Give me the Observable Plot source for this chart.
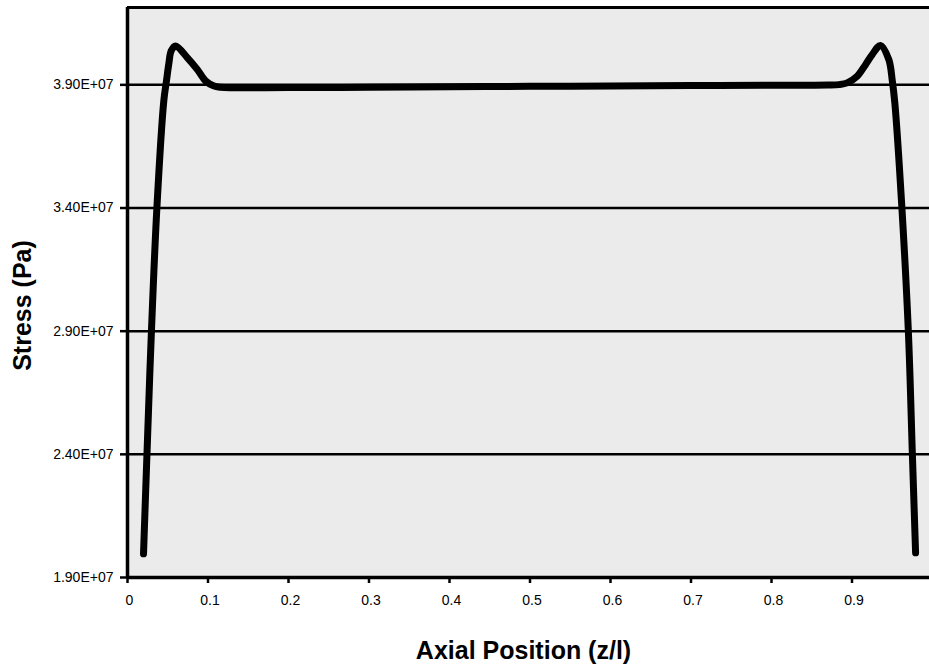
<!DOCTYPE html>
<html>
<head>
<meta charset="utf-8">
<script src="https://cdn.jsdelivr.net/npm/d3@7"></script>
<script src="https://cdn.jsdelivr.net/npm/@observablehq/plot@0.6"></script>
<style>
  html, body { margin: 0; padding: 0; background: #fff; overflow: hidden; }
  #chart svg { display: block; }
</style>
</head>
<body>
<div id="chart"></div>
<script>
// Axial position (z/l)
const axialPosition = [
  0.0199, 0.0241, 0.0297, 0.0365, 0.0451, 0.0484, 0.0513, 0.0543, 0.0596, 0.0742,
  0.0866, 0.0969, 0.1068, 0.1155, 0.13, 0.2, 0.3, 0.4, 0.5, 0.6,
  0.7, 0.8, 0.87, 0.884, 0.894, 0.9064, 0.9168, 0.9251, 0.9354, 0.9457,
  0.9499, 0.9532, 0.962, 0.970, 0.975, 0.979
];
// Stress (Pa)
const stress = [
  1.996e7, 2.394e7, 2.897e7, 3.40e7, 3.835e7, 3.916e7, 3.985e7, 4.038e7, 4.058e7, 4.011e7,
  3.963e7, 3.916e7, 3.896e7, 3.890e7, 3.888e7, 3.889e7, 3.890e7, 3.892e7, 3.894e7, 3.895e7,
  3.897e7, 3.898e7, 3.899e7, 3.901e7, 3.908e7, 3.935e7, 3.982e7, 4.023e7, 4.060e7, 4.003e7,
  3.921e7, 3.827e7, 3.40e7, 2.90e7, 2.40e7, 2.00e7
];
const yTicks = [1.9e7, 2.4e7, 2.9e7, 3.4e7, 3.9e7];
const yTickLabels = ["1.90E+07", "2.40E+07", "2.90E+07", "3.40E+07", "3.90E+07"];
const gridLines = [2.4e7, 2.9e7, 3.4e7, 3.9e7];
const xTicks = [0, 0.1, 0.2, 0.3, 0.4, 0.5, 0.6, 0.7, 0.8, 0.9, 1];
const xTickLabels = ["0", "0.1", "0.2", "0.3", "0.4", "0.5", "0.6", "0.7", "0.8", "0.9", "1"];
const yMin = 1.9e7, yMax = 4.214e7;

const data = axialPosition.map((x, i) => ({x, y: stress[i]}));
const yLab = yTicks.map((v, i) => ({v, t: yTickLabels[i]}));
const xLab = xTicks.map((v, i) => ({v, t: xTickLabels[i]}));
const font = "Arial, 'Liberation Sans', sans-serif";

const chart = Plot.plot({
  width: 929,
  height: 668,
  marginLeft: 127,
  marginTop: 7,
  marginBottom: 91,
  marginRight: 0,
  style: {fontFamily: font, background: "#fff", color: "#000", overflow: "visible"},
  x: {domain: [0, 1], range: [127, 932]},
  y: {domain: [yMin, yMax]},
  marks: [
    Plot.frame({fill: "#ebebeb", stroke: null}),
    Plot.ruleY(gridLines, {stroke: "#000", strokeWidth: 2.5}),
    Plot.ruleY([yMax], {stroke: "#000", strokeWidth: 3}),
    Plot.ruleY([yMin], {stroke: "#000", strokeWidth: 3.5}),
    Plot.ruleX([0], {stroke: "#000", strokeWidth: 3.5}),
    Plot.line(data, {x: "x", y: "y", curve: "catmull-rom", stroke: "#000", strokeWidth: 7, strokeLinejoin: "round"}),
    Plot.axisY({ticks: yTicks, tickSize: 7, strokeWidth: 2.5, tickFormat: () => "", label: null}),
    Plot.axisX({ticks: xTicks, tickSize: 6, strokeWidth: 2.5, tickFormat: () => "", label: null}),
    Plot.text(yLab, {
      y: "v", text: "t", frameAnchor: "left", dx: -14,
      textAnchor: "end", lineAnchor: "middle", fontSize: 14, fill: "#000"
    }),
    Plot.text(xLab, {
      x: "v", text: "t", frameAnchor: "bottom", dy: 23, dx: 2,
      textAnchor: "middle", lineAnchor: "middle", fontSize: 14, fill: "#000"
    }),
    Plot.text(["Stress (Pa)"], {
      frameAnchor: "left", dx: -105, dy: 13, rotate: -90,
      fontSize: 25, fontWeight: "bold", fill: "#000", textAnchor: "middle", lineAnchor: "middle"
    }),
    Plot.text(["Axial Position (z/l)"], {
      frameAnchor: "bottom", dx: -5, dy: 73,
      fontSize: 25, fontWeight: "bold", fill: "#000", textAnchor: "middle", lineAnchor: "middle"
    })
  ]
});
document.getElementById("chart").appendChild(chart);
</script>
</body>
</html>
